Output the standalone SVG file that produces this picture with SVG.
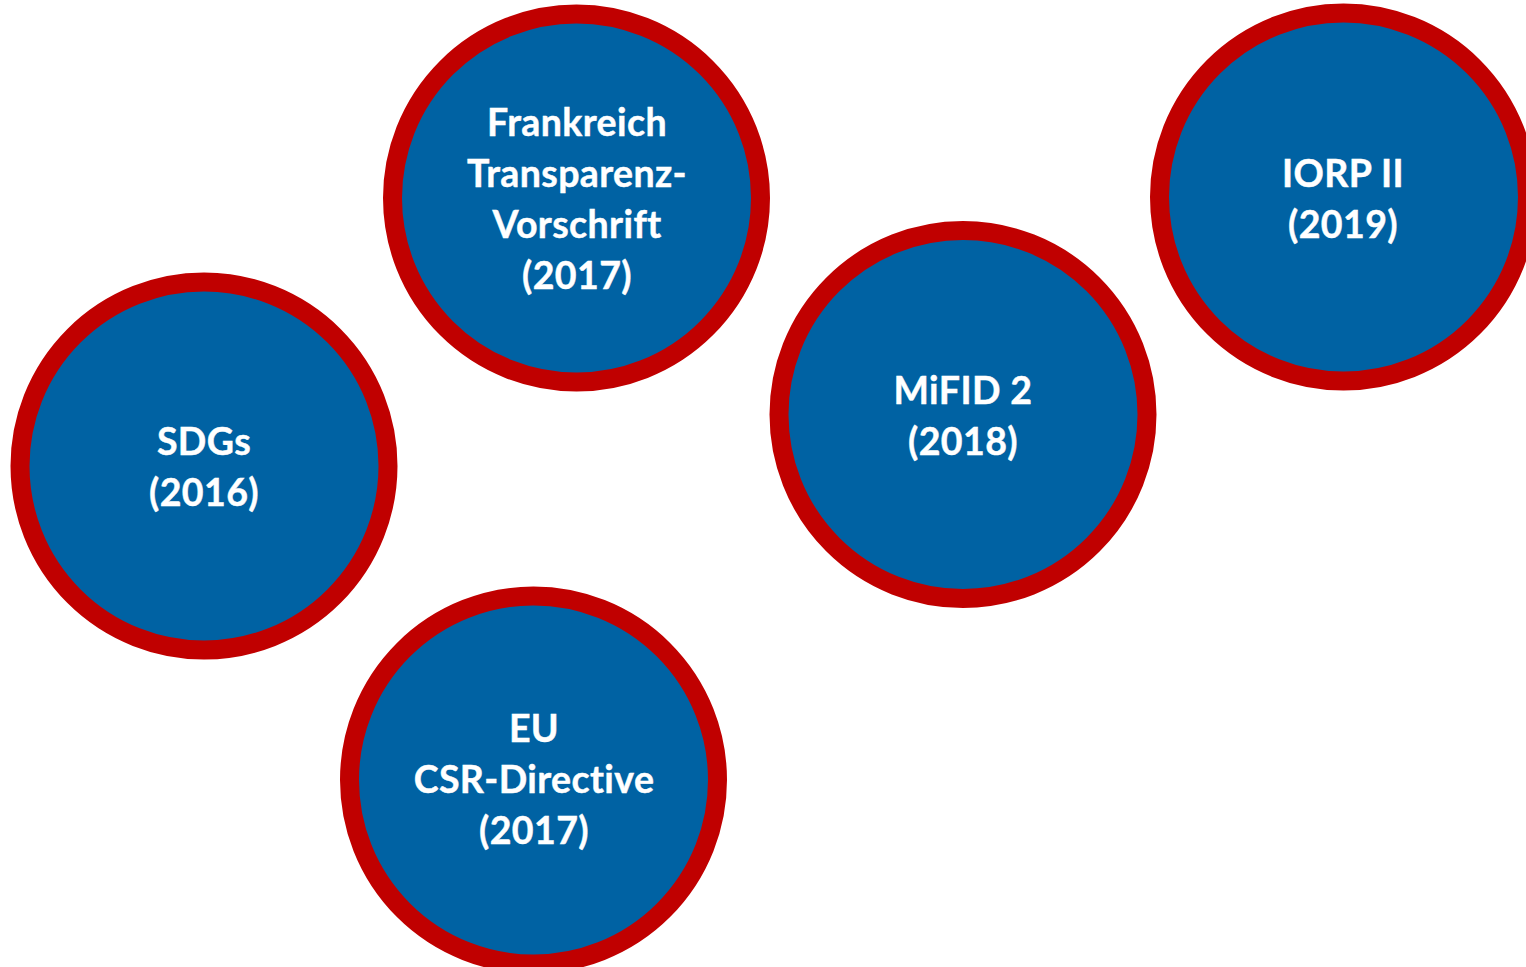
<svg xmlns="http://www.w3.org/2000/svg" width="1526" height="967" viewBox="0 0 1526 967">
<style>
.ring{fill:#0062A3;stroke:#C00000;stroke-width:19}
.lbl{font-family:Lato,"Open Sans","Liberation Sans",sans-serif;font-weight:bold;font-size:37.5px;letter-spacing:0.4px;fill:#FFFFFF;stroke:#FFFFFF;stroke-width:0.45px;text-anchor:middle}
</style>
<rect width="1526" height="967" fill="#FFFFFF"/>
<g id="connectors"></g>
<g id="node-frankreich">
<circle class="ring" cx="576.5" cy="198" r="184"/>
<text class="lbl" x="577" y="136">Frankreich</text>
<text class="lbl" x="577" y="187">Transparenz-</text>
<text class="lbl" x="577" y="238">Vorschrift</text>
<text class="lbl" x="577" y="289">(2017)</text>
</g>
<g id="node-sdgs">
<circle class="ring" cx="204" cy="466" r="184"/>
<text class="lbl" x="204" y="455">SDGs</text>
<text class="lbl" x="204" y="506">(2016)</text>
</g>
<g id="node-eu">
<circle class="ring" cx="533.5" cy="780" r="184"/>
<text class="lbl" x="534" y="742">EU</text>
<text class="lbl" x="534" y="793">CSR-Directive</text>
<text class="lbl" x="534" y="844">(2017)</text>
</g>
<g id="node-mifid">
<circle class="ring" cx="963" cy="414.5" r="184"/>
<text class="lbl" x="963" y="404">MiFID 2</text>
<text class="lbl" x="963" y="455">(2018)</text>
</g>
<g id="node-iorp">
<circle class="ring" cx="1343.5" cy="197" r="184"/>
<text class="lbl" x="1343" y="187">IORP II</text>
<text class="lbl" x="1343" y="238">(2019)</text>
</g>
</svg>
